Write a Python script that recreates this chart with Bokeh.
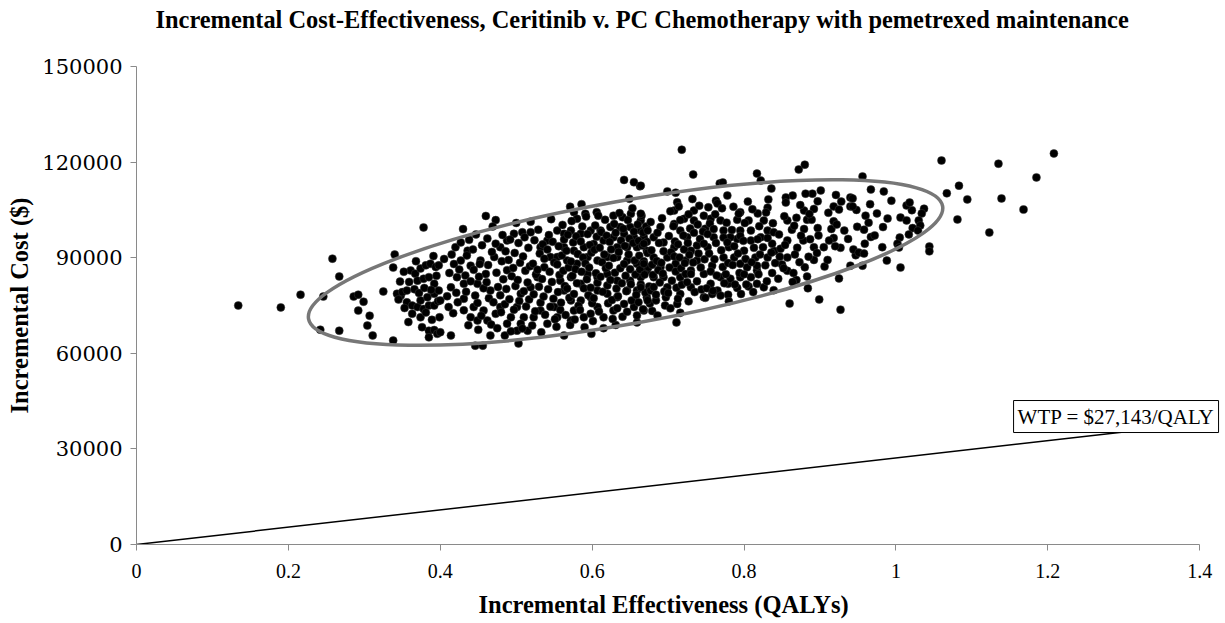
from bokeh.plotting import figure
from bokeh.models import ColumnDataSource, Label, Range1d, FixedTicker, NumeralTickFormatter, Title
from bokeh.embed import file_html
from bokeh.resources import INLINE

# ---------------- data ----------------
title_text = "Incremental Cost-Effectiveness, Ceritinib v. PC Chemotherapy with pemetrexed maintenance"
x_label = "Incremental Effectiveness (QALYs)"
y_label = "Incremental Cost ($)"
x_ticks = [0, 0.2, 0.4, 0.6, 0.8, 1.0, 1.2, 1.4]
y_ticks = [0, 30000, 60000, 90000, 120000, 150000]

wtp = 27143            # $/QALY threshold
wtp_x_end = 1.3
wtp_text = "WTP = $27,143/QALY"

# confidence ellipse (centre in data units, size in screen pixels)
ell_cx, ell_cy = 0.644, 88480
ell_w_px, ell_h_px, ell_angle = 644, 123, 0.176

# left tail
qaly_tail_l = [0.134,0.190,0.216,0.258,0.267,0.246,0.242,0.267,0.286,0.292,0.299,0.292,0.307,0.304,0.311,0.325,0.338,0.338,0.340,0.378,0.348]
cost_tail_l = [75000,74400,78400,89700,84100,77800,67400,67100,77800,78400,76200,73400,71800,68700,65600,79400,64000,86900,91000,99500,78100]

# band 0.34-0.40
qaly_b035 = [0.343,0.350,0.356,0.361,0.367,0.374,0.381,0.387,0.394,0.398,
             0.359,0.370,0.378,0.385,0.392,0.356,0.363,0.370,0.374,0.383,
             0.392,0.398,0.363,0.374,0.378,0.385,0.392,0.385,0.392,0.385,
             0.399,0.396,
             0.347,0.352,0.366,0.372,0.379,0.388,0.395,0.353,0.381,0.389,
             0.345,0.368,0.391,0.358,0.376,0.397]
cost_b035 = [78700,79200,79700,86000,85000,86600,87600,88100,87100,87600,
             82400,82800,83400,83900,81800,76000,75000,74500,76600,77600,
             78700,79700,72400,71300,73900,75000,75000,67100,67300,65000,
             71300,66100,
             82500,85600,80100,78900,80500,79900,84300,74200,72800,70500,
             76900,88900,90500,69800,68200,76300]

# band 0.40-0.67
qaly_b040 = [0.420,0.405,0.427,0.436,0.440,0.422,0.414,0.400,0.411,0.431,
             0.449,0.431,0.444,0.457,0.440,0.449,0.462,0.473,0.479,0.466,
             0.460,0.453,0.471,0.479,0.488,0.497,0.508,0.519,0.532,0.541,
             0.554,0.563,0.545,0.537,0.528,0.519,0.506,0.501,0.493,0.488,
             0.510,0.523,0.532,0.550,0.554,0.541,0.572,0.576,0.589,0.598,
             0.607,0.615,0.628,0.642,0.655,0.668,0.672,0.659,0.646,0.633,
             0.620,0.607,0.598,0.585,0.572,0.563,0.558,0.572,0.585,0.594,
             0.607,0.620,0.633,0.650,0.664,0.672,0.659,0.646,0.633,0.620,
             0.607,0.594,0.580,0.567,0.554,0.563,0.576,0.589,0.602,0.615,
             0.628,0.642,0.655,0.668,0.672,0.659,0.646,0.633,0.572,0.585,
             0.598,0.611,0.624,0.637,0.650,0.664]
cost_b040 = [93300,89600,89100,92200,87500,83900,80700,76600,74500,81800,
             81800,77100,74500,73400,71300,70300,70300,72400,74500,79700,
             84900,89100,90200,93300,95400,97500,98000,98000,93300,95400,
             98500,97500,90200,87000,83900,80700,78700,74500,71300,69300,
             71300,71300,73400,74500,71300,69300,70300,73400,71300,72400,
             74500,71300,73400,75500,74500,73400,77600,79700,79700,77600,
             78700,79700,77600,76600,76600,79700,82800,83900,81800,84900,
             83900,84900,82800,82800,83900,86000,88100,89100,90200,90200,
             89100,90200,88100,89100,90200,93300,92200,93300,94300,95400,
             96400,97500,96400,96400,92200,93300,93300,93300,98500,97500,
             98500,98500,99600,99600,99600,98500]

qaly_b040_edge = [0.642,0.655,0.663,0.649,0.571,0.586,0.460,0.473,0.430,0.576,0.580,0.591,0.606,0.608,0.628,0.640,0.651,0.664,0.446,0.456,0.503,0.414,0.400,0.466,0.485,0.563,0.599,0.631,0.659,0.501,0.515]
cost_b040_edge = [114400,113700,112400,108500,106000,106800,103100,101800,99000,104300,102200,103800,104300,103200,103200,102700,103800,101700,62400,62400,63100,65600,66600,65600,65600,65600,66100,68900,69700,67100,67100]

qaly_core_a = [
    0.412,0.409,0.415, 0.418,0.421,0.417, 0.425,0.423,0.427, 0.433,0.435,0.431,0.434,
    0.438,0.440,0.437, 0.444,0.446,0.443,0.447, 0.451,0.449,0.452,0.450, 0.455,0.457,0.454,
    0.463,0.461,0.464,0.462, 0.468,0.470,0.467,0.469, 0.474,0.476,0.473,0.475,
    0.481,0.479,0.483,0.480,0.482, 0.486,0.488,0.485,0.487, 0.492,0.490,0.494,0.491,0.493,
    0.498,0.496,0.499,0.497,0.500, 0.503,0.505,0.502,0.504,0.506,
    0.511,0.509,0.512,0.510,0.513,0.508, 0.516,0.518,0.515,0.517,0.519,
    0.524,0.522,0.526,0.523,0.525,0.521, 0.529,0.531,0.528,0.530,0.532,
    0.535,0.537,0.534,0.536,0.538,0.533, 0.543,0.541,0.544,0.542,0.545,0.546,
    0.548,0.550,0.547,0.549,0.551, 0.556,0.554,0.557,0.555,0.558,0.553,
    0.561,0.563,0.560,0.562,0.564,0.559, 0.568,0.566,0.569,0.567,0.570,0.565,
    0.573,0.575,0.572,0.574,0.576,0.571, 0.579,0.581,0.578,0.580,0.582,0.577,
    0.587,0.585,0.588,0.586,0.589,0.584, 0.592,0.594,0.591,0.593,0.595,0.590,
    0.597,0.599,0.596,0.598,0.600,0.601, 0.604,0.606,0.603,0.605,0.607,0.602,
    0.612,0.610,0.613,0.611,0.614,0.609,0.615, 0.617,0.619,0.616,0.618,0.620,0.621,
    0.623,0.625,0.622,0.624,0.626,0.627, 0.629,0.631,0.628,0.630,0.632,0.633,
    0.636,0.638,0.635,0.637,0.639,0.634,0.640, 0.641,0.643,0.642,0.644,0.645,0.646,
    0.647,0.649,0.648,0.650,0.651,0.652, 0.653,0.655,0.654,0.656,0.657,0.658,0.659,
    0.660,0.661,0.662,0.663,0.664,0.661, 0.665,0.667,0.666,0.668,0.669,0.670,0.667,
    0.671,0.672,0.673,0.674,0.675,0.676]
cost_core_a = [
    85200,77900,91000, 88000,79000,72600, 86300,76000,94800, 84400,90700,73500,79300,
    95600,82600,68800, 86200,78100,92600,97300, 84000,75800,88000,67400, 93900,80400,71800,
    87700,82300,77300,96000, 91800,76000,69000,99800, 85300,80800,94400,67900,
    88900,78200,83200,72900,97100, 92000,86100,75400,80200, 95700,89300,84200,77000,66900,
    91500,86800,81100,73700,100900, 94600,88400,83000,76400,69300,
    96400,90400,85900,79500,74700,67800, 93100,87300,82200,76900,101300,
    95500,88100,84700,78500,73200,68700, 98800,91300,86200,80900,75900,
    94200,89700,83300,77800,72100,66600, 97100,92600,85600,80100,74600,102100,
    95000,88500,82400,77100,70700, 93600,87900,84600,79200,73600,68300,
    100300,95700,90700,85900,81100,75900, 97200,92200,86900,80300,77400,72000,
    101500,94800,88800,84300,78600,68900, 96700,91200,86400,82000,74900,70600,
    99800,95100,90100,85600,80400,73600, 102900,97400,88200,83200,78200,68200,
    94000,91600,86900,80600,75700,70100, 100100,96600,92500,85100,82100,77300,
    98000,93100,88600,84000,79300,73100,67900, 101900,96900,91000,86700,81300,75700,
    95000,92600,87500,83000,76700,70800, 100600,97800,89900,85300,80300,74100,
    104000,95400,91800,86700,82000,77900,71500, 99100,93700,88000,84300,79500,73000,
    101800,96000,91000,86400,81700,76600, 105500,98200,94600,89100,84700,78300,71900,
    100400,95300,90600,86300,81600,76000, 103200,97900,93800,88900,84700,79100,73800,
    99800,95000,91500,87000,81000,75600]

# band 0.66-0.84
qaly_b070 = [0.795,0.791,0.806,0.795,0.809,0.791,0.809,0.822,0.825,0.831,
             0.815,0.800,0.804,0.817,0.795,0.806,0.826,0.791,0.779,0.769,
             0.765,0.779,0.769,0.756,0.747,0.758,0.773,0.780,0.782,0.773,
             0.769,0.756,0.747,0.734,0.749,0.760,0.752,0.738,0.730,0.723,
             0.738,0.730,0.716,0.730,0.716,0.712,0.699,0.694,0.690,0.681,
             0.677,0.673,0.681,0.699,0.708,0.694,0.681,0.673,0.690,0.708,
             0.716,0.725,0.721,0.708,0.712,0.734,0.664,0.668,0.668,0.664,
             0.684,0.697,0.710,0.747,0.758,0.782,0.809,0.817,0.795,0.787,
             0.817,0.826,0.831,0.839,0.837]
cost_b070 = [104300,101900,101700,98500,98500,95900,95400,96400,93300,90100,
             90100,92200,87000,86000,83900,81000,80700,80500,81800,83900,
             79700,78400,78100,81800,84900,87500,90100,93300,96400,98500,
             101700,102200,103200,101700,99100,96400,93300,93800,92200,89100,
             89100,86000,83900,80700,78600,75500,80700,83900,87000,83900,
             79700,76600,90100,90100,93300,94800,96400,98500,99600,100600,
             98500,96400,102200,104800,107400,104800,103800,94400,88100,80700,
             76600,77600,88100,77600,78600,83400,83900,81800,88100,90100,
             87500,101700,98500,98000,94400]

qaly_b070_edge = [0.718,0.733,0.872,0.880,0.817,0.822,0.768,0.772,0.664,0.699,0.710,0.832,0.831,0.805,0.778,0.763,0.765,0.818,0.836,0.711,0.860,0.899,0.927,0.925]
cost_b070_edge = [123900,116100,117700,119200,116400,114200,113300,113600,112600,110800,110400,108300,105700,107600,109500,107900,107000,103900,111700,69700,75600,76900,73700,83500]

qaly_core_b = [
    0.677,0.678,0.679,0.680,0.681,0.679,
    0.686,0.688,0.685,0.687,0.689,0.684,0.686,
    0.692,0.694,0.691,0.693,0.695,0.696,
    0.703,0.701,0.704,0.702,0.705,0.700,0.703,
    0.707,0.709,0.708,0.710,0.711,
    0.714,0.716,0.713,0.715,0.717,0.718,0.713,0.716,
    0.720,0.721,0.722,0.723,
    0.727,0.729,0.726,0.728,0.730,0.725,0.727,
    0.732,0.734,0.733,0.735,
    0.741,0.739,0.742,0.740,0.743,0.738,0.744,
    0.746,0.747,0.748,0.749,
    0.753,0.755,0.752,0.754,0.756,0.751,
    0.762,0.760,0.763,0.761,0.764,0.759,
    0.771,0.773,0.770,0.772,0.774,
    0.777,0.778,0.779,0.776,0.780,
    0.786,0.784,0.787,0.785,0.788,
    0.793,0.795,0.792,0.794,0.796,
    0.801,0.799,0.802,0.800,0.803,
    0.811,0.813,0.810,0.812,
    0.820,0.818,0.821,0.819,
    0.829,0.831,0.828,0.830,
    0.838,0.840,0.837,0.839]
cost_core_b = [
    101200,92300,87800,84600,80800,73300,
    97800,94600,89000,86100,82200,78400,71900,
    102400,92000,88400,85000,79400,75000,
    104600,96800,91700,86900,82800,78900,74100,
    99900,95100,90400,85700,80600,
    106100,101800,94200,90100,86700,81500,77100,72700,
    97000,92600,88300,84900,
    103600,99200,94600,90900,84900,82300,76300,
    108400,97800,88500,79200,
    106300,100400,95900,91300,86900,82600,80000,
    98200,94400,89500,77400,
    105800,100700,97400,91300,85700,80400,
    103600,99000,94600,89500,84400,79600,
    105500,96300,92300,87100,82000,
    101000,94800,88300,84800,76300,
    106000,98700,93600,87700,81600,
    103800,96800,91300,85200,78600,
    100900,95300,89600,84800,81600,
    105200,93100,88600,79200,
    99900,95800,91000,84800,
    104200,96200,87600,82600,
    100800,92100,85200,79800]

# band 0.84-0.95
qaly_b090 = [0.879,0.892,0.883,0.889,0.869,0.857,0.863,0.879,0.897,0.918,
             0.915,0.932,0.937,0.918,0.905,0.927,0.892,0.878,0.857,0.870,
             0.857,0.850,0.880,0.892,0.906,0.883,0.869,0.864,0.857,0.841,
             0.836,0.848,
             0.940,0.940,0.918,0.925,0.928,0.901,0.890,0.881,0.864,0.855,0.855]
cost_b090 = [104800,105300,101900,101900,102500,101700,98800,99000,99300,101400,
             99000,98500,95900,96200,93300,93100,93300,95400,95400,93100,
             90100,87900,87000,89300,87200,84100,83000,82400,85900,88300,
             91600,92800,
             108900,106100,106100,105100,107600,111100,110100,110100,109500,108900,107300]

qaly_core_c = [0.846,0.847,0.845,0.853,0.854,0.852,0.866,0.867,0.865,0.874,0.875,0.873,0.886,0.887,0.885,0.884,0.897,0.898,0.896,0.911,0.912,0.910,0.921,0.922,0.920,0.948,0.949,0.947,0.967,0.966,0.983,0.982,1.022,1.021]
cost_core_c = [97300,90300,83400,103000,94000,86700,100000,91000,85200,106500,96900,88600,103700,95800,90300,80400,107700,97000,91500,104100,95400,89300,109700,100400,93600,105000,99700,90800,96500,106800,99600,93300,99300,104900]

# right tail
qaly_tail_r = [1.060,1.135,1.208,1.185,1.083,1.067,1.094,1.139,1.168,1.081,
               1.123,1.044,1.044,1.006,0.988,0.956,0.956,0.967,0.984,0.994,
               1.014,1.018,1.037,1.034,1.030,1.032,1.029,1.017,1.005,1.002,
               1.004,0.989,1.006,1.014,0.975,0.960,0.964,0.958,0.972,0.959,
               0.944,0.951,0.958,0.943,0.943,0.940]
cost_tail_r = [120500,119500,122700,115200,112600,110200,108300,108600,105100,102000,
               97900,93500,92000,86900,89100,87500,115500,111400,110800,107900,
               106400,107300,105400,103900,101700,100100,98500,97300,96300,94400,
               93200,102300,102600,101700,103900,103200,101000,98800,97000,94400,
               92600,91600,91300,108600,106100,87500]

groups = [(qaly_tail_l, cost_tail_l), (qaly_b035, cost_b035), (qaly_b040, cost_b040),
          (qaly_b040_edge, cost_b040_edge), (qaly_core_a, cost_core_a), (qaly_b070, cost_b070),
          (qaly_b070_edge, cost_b070_edge), (qaly_core_b, cost_core_b), (qaly_b090, cost_b090),
          (qaly_core_c, cost_core_c), (qaly_tail_r, cost_tail_r)]
xs, ys = [], []
for gx, gy in groups:
    n = min(len(gx), len(gy))
    xs += gx[:n]
    ys += gy[:n]

src = ColumnDataSource(data=dict(x=xs, y=ys))

SERIF = "Liberation Serif"

# frame: left 136, right ~1222 (axis line stops at 1.4), top 66, bottom 544
p = figure(width=1223, height=623, x_range=Range1d(0, 1.43), y_range=Range1d(0, 150000),
           title=None, output_backend="svg", toolbar_location=None,
           min_border_left=136, min_border_right=1, min_border_top=66, min_border_bottom=79,
           background_fill_color="white", border_fill_color="white")
p.outline_line_color = None
p.xgrid.visible = False
p.ygrid.visible = False

# spacer between frame and title, then the title itself (outermost)
p.add_layout(Title(text=" ", text_font_size="10px", standoff=21), "above")
main_title = Title(text=title_text, align="left", offset=19, vertical_align="bottom", standoff=0,
                   text_font=SERIF, text_font_size="24.4px", text_font_style="bold",
                   text_color="black")
p.add_layout(main_title, "above")

axis_color = "#8a8a8a"
for ax in (p.xaxis[0], p.yaxis[0]):
    ax.axis_line_color = axis_color
    ax.major_tick_line_color = axis_color
    ax.minor_tick_line_color = None
    ax.major_tick_in = 0
    ax.major_tick_out = 6
    ax.axis_label_text_font = SERIF
    ax.axis_label_text_font_style = "bold"
    ax.axis_label_text_font_size = "24.5px"
    ax.axis_label_text_color = "black"
    ax.major_label_text_color = "black"

p.xaxis.bounds = (0, 1.4)
p.xaxis.ticker = FixedTicker(ticks=x_ticks)
p.xaxis.formatter = NumeralTickFormatter(format="0.[0]")
p.xaxis.major_label_text_font = SERIF
p.xaxis.major_label_text_font_size = "20px"
p.xaxis.major_label_standoff = 13

p.yaxis.ticker = FixedTicker(ticks=y_ticks)
p.yaxis.formatter = NumeralTickFormatter(format="0")
p.yaxis.major_label_text_font = "DejaVu Serif"
p.yaxis.major_label_text_font_size = "21px"
p.yaxis.major_label_standoff = 8
p.yaxis.axis_label = y_label
p.yaxis.axis_label_standoff = 6

# x-axis title placed under the axis, aligned as in the reference
p.add_layout(Title(text=" ", text_font_size="1px", standoff=7), "below")
xt = Title(text=x_label, align="left", offset=342, vertical_align="top", standoff=0,
           text_font=SERIF, text_font_size="24.5px", text_font_style="bold", text_color="black")
p.add_layout(xt, "below")

p.scatter(x="x", y="y", source=src, size=8, marker="circle",
          fill_color="black", line_color="#3a3a3a", line_width=0.5)

p.ellipse(x=[ell_cx], y=[ell_cy], width=ell_w_px, height=ell_h_px, angle=ell_angle,
          width_units="screen", height_units="screen",
          fill_color=None, line_color="#777777", line_width=3.5)

p.line(x=[0, wtp_x_end], y=[0, wtp * wtp_x_end], line_color="black", line_width=1.5)

lab = Label(x=1.1549, y=35140, text=wtp_text, text_font=SERIF, text_font_size="21px",
            text_color="black", text_align="left", text_baseline="bottom",
            border_line_color="black", border_line_width=1,
            background_fill_color="white", padding=4)
p.add_layout(lab)

open("out.html", "w").write(file_html(p, INLINE))
